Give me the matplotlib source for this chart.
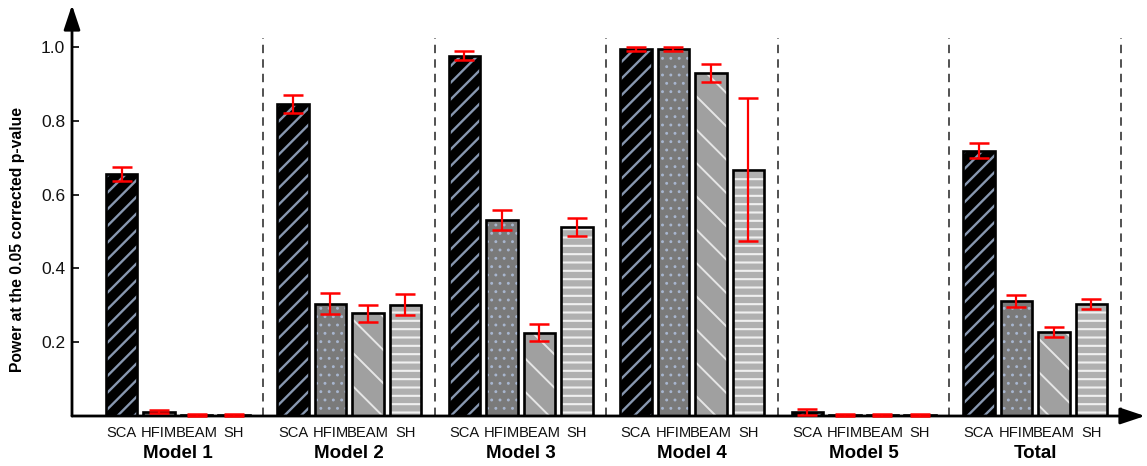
import matplotlib
matplotlib.use("Agg")
import matplotlib.pyplot as plt
import numpy as np

plt.rcParams['font.family'] = ['Liberation Sans', 'DejaVu Sans']

groups = ["Model 1", "Model 2", "Model 3", "Model 4", "Model 5", "Total"]
methods = ["SCA", "HFIM", "BEAM", "SH"]

sca = [0.655, 0.846, 0.976, 0.995, 0.012, 0.719]
hfim = [0.012, 0.304, 0.531, 0.995, 0.003, 0.312]
beam = [0.003, 0.278, 0.226, 0.930, 0.003, 0.227]
sh = [0.003, 0.302, 0.513, 0.668, 0.003, 0.303]

sca_err = [0.019, 0.024, 0.012, 0.006, 0.008, 0.020]
hfim_err = [0.005, 0.028, 0.028, 0.005, 0.002, 0.016]
beam_err = [0.002, 0.024, 0.024, 0.024, 0.002, 0.013]
sh_err = [0.002, 0.029, 0.024, 0.193, 0.002, 0.013]

values = [sca, hfim, beam, sh]
errors = [sca_err, hfim_err, beam_err, sh_err]

faces = ['#000000', '#7a7a7a', '#a0a0a0', '#b0b0b0']
hatch_cols = ['#8797b0', '#a8b6cf', '#e6e6e6', '#f0f0f0']
hatches = ['//', '..', '\\', '--']
hatch_lw = [1.7, 0.9, 1.4, 1.5]

W, H = 1147, 466
fig = plt.figure(figsize=(W / 100, H / 100), dpi=100)
ax_l, ax_r, ax_b, ax_t = 72, 1128, 416, 25
ax = fig.add_axes([ax_l / W, (H - ax_b) / H, (ax_r - ax_l) / W, (ax_b - ax_t) / H])

px_per_unit = 37.5
px_per_y = 369.0
ax.set_xlim(-49.5 / px_per_unit, -49.5 / px_per_unit + (ax_r - ax_l) / px_per_unit)
ax.set_ylim(0, (ax_b - ax_t) / px_per_y)

stride = 4.573
width = 0.83
group_x = np.arange(len(groups)) * stride

for i in range(4):
    x = group_x + i
    with plt.rc_context({'hatch.linewidth': hatch_lw[i]}):
        ax.bar(x, values[i], width, color=faces[i], edgecolor=hatch_cols[i],
               hatch=hatches[i], linewidth=0, zorder=2)
    ax.bar(x, values[i], width, fill=False, edgecolor='black', linewidth=1.9, zorder=3)
    ax.errorbar(x, values[i], yerr=errors[i], fmt='none', ecolor='red',
                elinewidth=1.6, capsize=7.5, capthick=1.8, zorder=4, clip_on=False)

# dashed separators
for gx in group_x:
    ax.vlines(gx + 3 + (stride - 3) / 2, 0.0, 1.025, colors='#222222',
              linestyles=(0, (5.5, 4)), linewidth=1.1, zorder=1)

# x tick labels (methods)
xt = np.concatenate([group_x + i for i in range(4)])
xl = [m for m in methods for _ in groups]
ax.set_xticks(xt)
ax.set_xticklabels(xl, fontsize=10.6, color='#111111')
ax.tick_params(axis='x', length=0, pad=7)

for gx, g in zip(group_x, groups):
    ax.annotate(g, xy=(gx + 1.5, 0), xycoords=('data', 'axes fraction'),
                xytext=(0, -37), textcoords='offset pixels', ha='center', va='center',
                fontsize=13.5, fontweight='bold', annotation_clip=False)

ax.set_yticks([0.2, 0.4, 0.6, 0.8, 1.0])
ax.set_yticklabels(['0.2', '0.4', '0.6', '0.8', '1.0'])
ax.tick_params(axis='y', direction='in', length=5, width=1.2, labelsize=12.5, pad=5,
               labelcolor='#111111')
ax.set_ylabel('Power at the 0.05 corrected p-value', fontsize=11.3, fontweight='bold')
ax.yaxis.set_label_coords((25 - ax_l) / (ax_r - ax_l), (ax_b - 239) / (ax_b - ax_t))

for s in ax.spines.values():
    s.set_visible(False)

# axis arrows
ax.annotate('', xy=(0, 1 + (ax_t - 5) / (ax_b - ax_t)), xycoords='axes fraction',
            xytext=(0, 0), textcoords='axes fraction',
            arrowprops=dict(arrowstyle='-|>,head_length=1.5,head_width=0.5',
                            color='black', lw=2, shrinkA=0, shrinkB=0, mutation_scale=10),
            annotation_clip=False)
ax.annotate('', xy=((1145 - ax_l) / (ax_r - ax_l), 0), xycoords='axes fraction',
            xytext=(0, 0), textcoords='axes fraction',
            arrowprops=dict(arrowstyle='-|>,head_length=1.5,head_width=0.5',
                            color='black', lw=2, shrinkA=0, shrinkB=0, mutation_scale=10),
            annotation_clip=False)

fig.savefig('out.png', dpi=100)
